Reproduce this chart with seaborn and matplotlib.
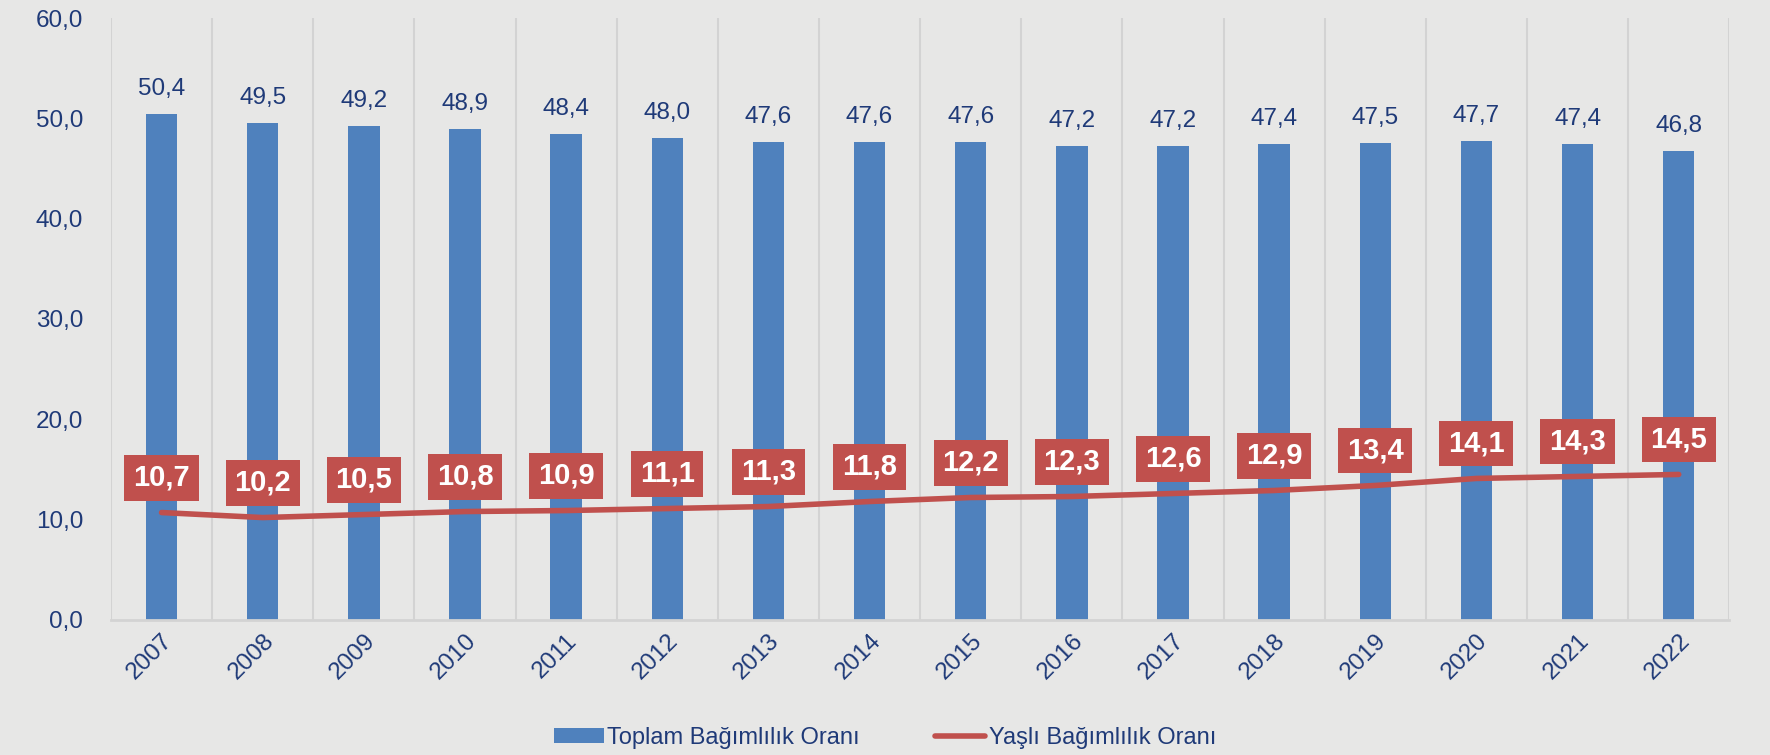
import numpy as np
import pandas as pd
import seaborn as sns
import matplotlib.pyplot as plt
from matplotlib.ticker import FixedLocator

years = ['2007', '2008', '2009', '2010', '2011', '2012', '2013', '2014',
         '2015', '2016', '2017', '2018', '2019', '2020', '2021', '2022']
toplam = [50.4, 49.5, 49.2, 48.9, 48.4, 48.0, 47.6, 47.6,
          47.6, 47.2, 47.2, 47.4, 47.5, 47.7, 47.4, 46.8]
yasli = [10.7, 10.2, 10.5, 10.8, 10.9, 11.1, 11.3, 11.8,
         12.2, 12.3, 12.6, 12.9, 13.4, 14.1, 14.3, 14.5]

BLUE = '#4F81BD'
RED = '#C0504D'
NAVY = '#1F3A78'
BG = '#E7E7E6'


def tr(v):
    return f'{v:.1f}'.replace('.', ',')


sns.set_theme(style='white')
plt.rcParams['font.family'] = ['Liberation Sans', 'DejaVu Sans']

df = pd.DataFrame({'Yil': years, 'Toplam': toplam, 'Yasli': yasli})
df['pos'] = np.arange(len(df))

fig = plt.figure(figsize=(17.7, 7.55), dpi=100, facecolor=BG)
ax = fig.add_axes([0.0627, 0.179, 0.9143, 0.797])
ax.set_facecolor(BG)

sns.barplot(data=df, x='Yil', y='Toplam', color=BLUE, width=0.31,
            saturation=1, linewidth=0, ax=ax,
            label='Toplam Bağımlılık Oranı', zorder=2)
sns.lineplot(data=df, x='pos', y='Yasli', color=RED, lw=4, ax=ax,
             label='Yaşlı Bağımlılık Oranı', zorder=3,
             solid_capstyle='round')

for i, v in enumerate(toplam):
    ax.annotate(tr(v), (i, v), xytext=(0, 18), textcoords='offset points',
                ha='center', va='center', fontsize=17.5, color=NAVY)
for i, v in enumerate(yasli):
    ax.annotate(tr(v), (i, v), xytext=(0, 25), textcoords='offset points',
                ha='center', va='center', fontsize=21, color='white',
                fontweight='bold', zorder=5,
                bbox=dict(boxstyle='square,pad=0.3', fc=RED, ec='none'))

ax.set_xlim(-0.5, len(years) - 0.5)
ax.set_ylim(0, 60)
ax.set_yticks(np.arange(0, 61, 10))
ax.set_yticklabels([tr(t) for t in np.arange(0, 61, 10)], fontsize=17.5,
                   color=NAVY)
ax.set_xticks(df['pos'])
ax.set_xticklabels(years, rotation=45, ha='right', rotation_mode='anchor',
                   fontsize=17.5, color=NAVY)
ax.tick_params(axis='both', length=0)
ax.tick_params(axis='x', pad=7)
ax.tick_params(axis='y', pad=20)

ax.xaxis.set_minor_locator(FixedLocator(np.arange(-0.5, len(years), 1)))
ax.grid(which='minor', axis='x', color='#D3D3D3', lw=1.5, zorder=0)
ax.grid(which='major', visible=False)
ax.tick_params(axis='x', which='minor', length=0)

for s in ['top', 'right', 'left']:
    ax.spines[s].set_visible(False)
ax.spines['bottom'].set_color('#D3D3D3')
ax.spines['bottom'].set_linewidth(2)
ax.set_xlabel('')
ax.set_ylabel('')

ax.get_legend().remove()
h, l = ax.get_legend_handles_labels()
order = [l.index('Toplam Bağımlılık Oranı'), l.index('Yaşlı Bağımlılık Oranı')]
fig.legend([h[k] for k in order], [l[k] for k in order],
           loc='lower center', bbox_to_anchor=(0.5, -0.02), ncol=2,
           frameon=False, fontsize=17, labelcolor=NAVY, handlelength=2.1,
           handleheight=0.6, handletextpad=0.15, columnspacing=3.2)

fig.savefig('out.png', facecolor=BG)
